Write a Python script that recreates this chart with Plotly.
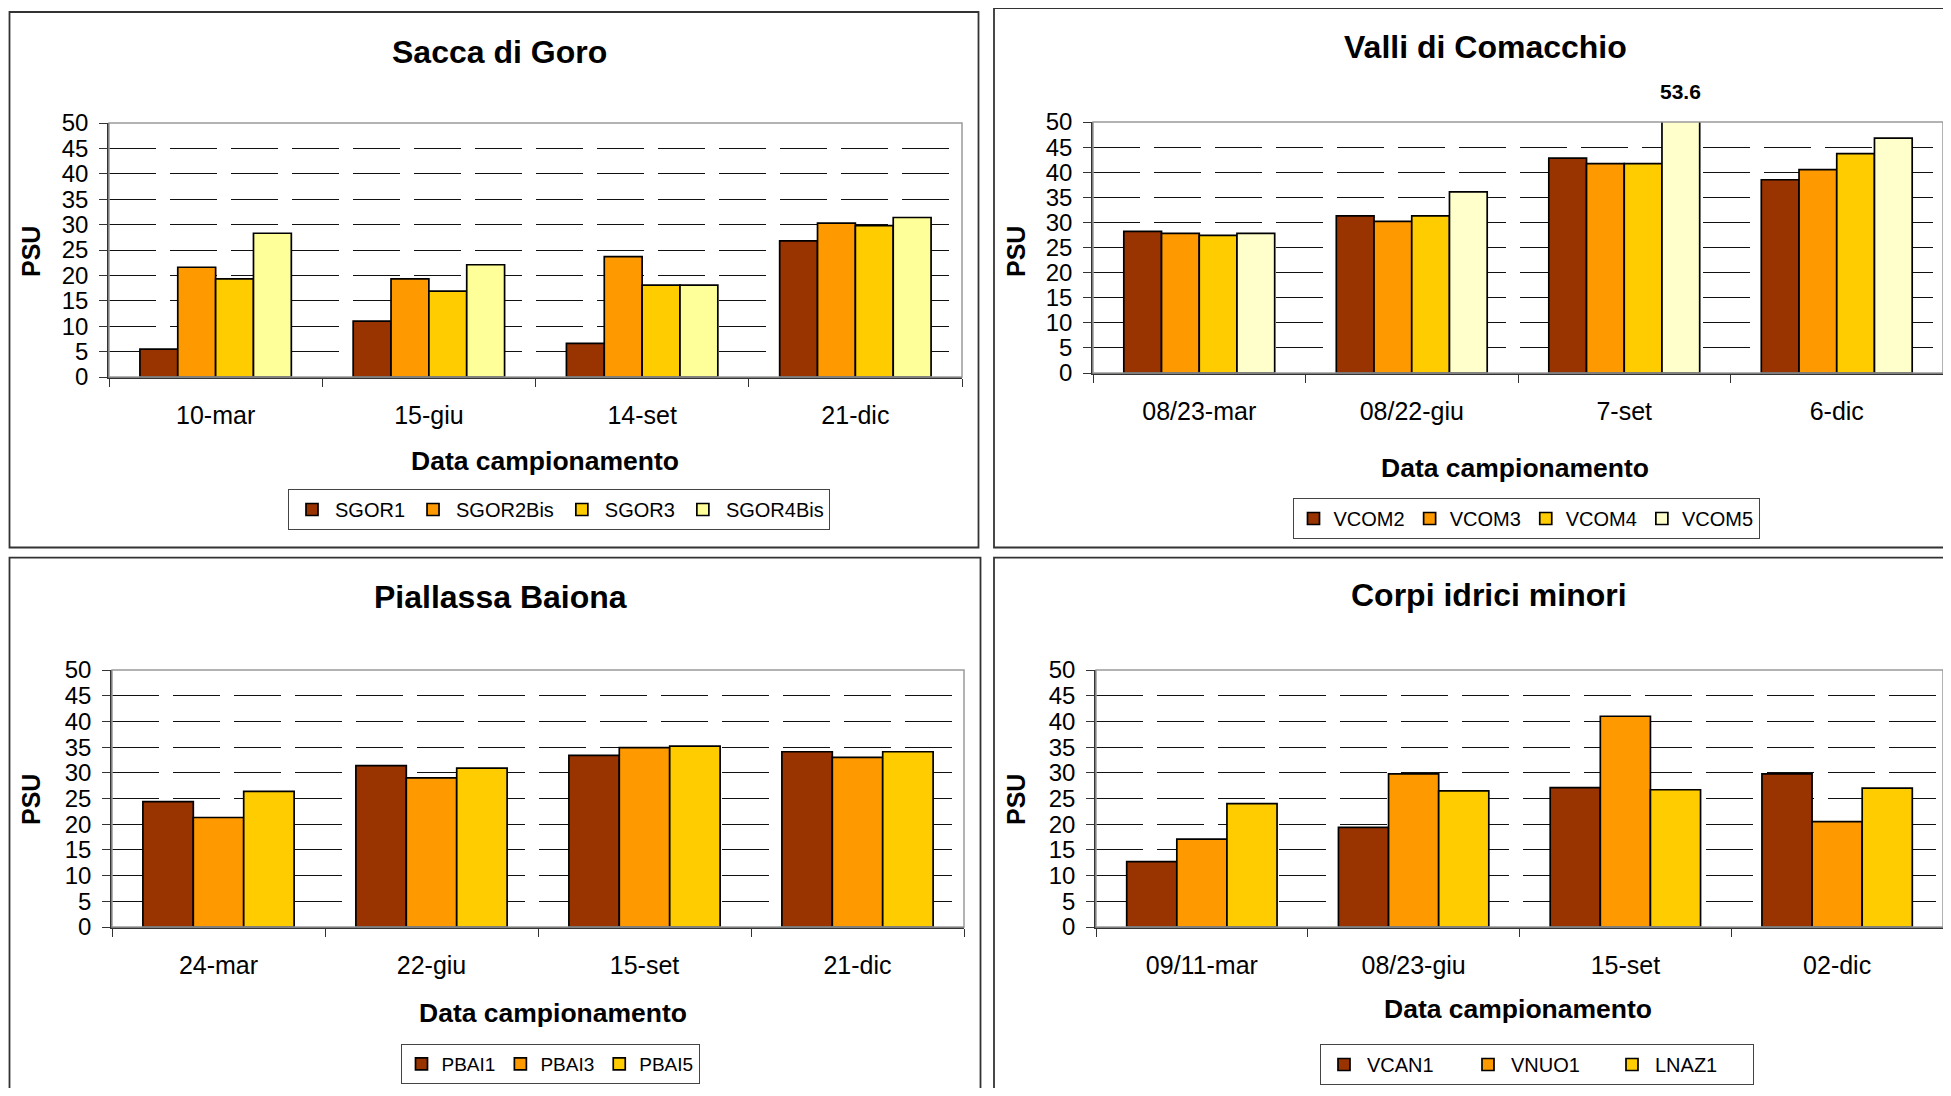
import plotly.graph_objects as go
from plotly.subplots import make_subplots

# reference picture size, and the figure size that fits inside the page margins
W, H = 1951, 1096
FW, FH = 1935, 1080
OX, OY = 8, 8

# Sacca di Goro
goro_date = ["10-mar", "15-giu", "14-set", "21-dic"]
sgor1 = [5.5, 11.0, 6.6, 26.8]
sgor2bis = [21.6, 19.3, 23.7, 30.3]
sgor3 = [19.3, 16.9, 18.1, 29.8]
sgor4bis = [28.3, 22.1, 18.1, 31.4]

# Valli di Comacchio
com_date = ["08/23-mar", "08/22-giu", "7-set", "6-dic"]
vcom2 = [28.2, 31.3, 42.8, 38.5]
vcom3 = [27.8, 30.2, 41.7, 40.5]
vcom4 = [27.4, 31.3, 41.7, 43.7]
vcom5 = [27.8, 36.1, 53.6, 46.8]

# Piallassa Baiona
bai_date = ["24-mar", "22-giu", "15-set", "21-dic"]
pbai1 = [24.4, 31.4, 33.4, 34.1]
pbai3 = [21.3, 29.0, 34.9, 33.0]
pbai5 = [26.4, 30.9, 35.2, 34.1]

# Corpi idrici minori
min_date = ["09/11-mar", "08/23-giu", "15-set", "02-dic"]
vcan1 = [12.7, 19.4, 27.1, 29.8]
vnuo1 = [17.1, 29.8, 41.0, 20.5]
lnaz1 = [24.0, 26.5, 26.7, 27.0]

BROWN, ORANGE, GOLD = "#993300", "#FF9900", "#FFCC00"
FONT = "Liberation Sans, Arial, sans-serif"
BARGAP = 0.29

# px boxes measured on the reference: plot area, title, x title, PSU, legend, frame
panels = [
    dict(title="Sacca di Goro", dates=goro_date,
         series=[("SGOR1", sgor1, BROWN), ("SGOR2Bis", sgor2bis, ORANGE),
                 ("SGOR3", sgor3, GOLD), ("SGOR4Bis", sgor4bis, "#FFFF99")],
         plot=(109, 962, 123, 377), title_xy=(499, 52), xt_xy=(545, 461),
         psu_xy=(31, 252), leg=(559, 489), iw=36, lsize=20, ew=None,
         frame=(9.5, 978.5, 12, 547.5)),
    dict(title="Valli di Comacchio", dates=com_date,
         series=[("VCOM2", vcom2, BROWN), ("VCOM3", vcom3, ORANGE),
                 ("VCOM4", vcom4, GOLD), ("VCOM5", vcom5, "#FFFFCC")],
         plot=(1093, 1945, 122, 373), title_xy=(1485, 47), xt_xy=(1515, 468),
         psu_xy=(1016, 252), leg=(1526, 498), iw=30, lsize=20, ew=None,
         frame=(994, 1970, 8, 547.5)),
    dict(title="Piallassa Baiona", dates=bai_date,
         series=[("PBAI1", pbai1, BROWN), ("PBAI3", pbai3, ORANGE),
                 ("PBAI5", pbai5, GOLD)],
         plot=(112, 964, 670, 927), title_xy=(500, 597), xt_xy=(553, 1013),
         psu_xy=(31, 800), leg=(550, 1044), iw=30, lsize=19, ew=None,
         frame=(9.5, 980.5, 557.7, 1110)),
    dict(title="Corpi idrici minori", dates=min_date,
         series=[("VCAN1", vcan1, BROWN), ("VNUO1", vnuo1, ORANGE),
                 ("LNAZ1", lnaz1, GOLD)],
         plot=(1096, 1949, 670, 927), title_xy=(1489, 595), xt_xy=(1518, 1009),
         psu_xy=(1016, 800), leg=(1537, 1044), iw=36, lsize=20, ew=93,
         frame=(994, 1970, 557.7, 1110)),
]


def px(x):
    return (x - OX) / FW


def py(y):
    return 1 - (y - OY) / FH


def label(text, x, y, size, angle=0):
    return dict(text=text, xref="paper", yref="paper", x=px(x), y=py(y),
                xanchor="center", yanchor="middle", textangle=angle, showarrow=False,
                font=dict(family=FONT, size=size, color="black"))


fig = make_subplots(rows=2, cols=2)
annotations = []
shapes = []

for i, p in enumerate(panels):
    row, col = i // 2 + 1, i % 2 + 1
    k = "" if i == 0 else str(i + 1)
    leg = "legend" + k
    for name, vals, color in p["series"]:
        fig.add_trace(go.Bar(
            x=p["dates"], y=vals, name=name, legend=leg,
            marker=dict(color=color, line=dict(color="black", width=1.7)),
        ), row=row, col=col)

    x0, x1, y0, y1 = p["plot"]
    fig.update_xaxes(
        domain=[px(x0), min(px(x1), 1)], type="category", tickson="boundaries",
        ticks="outside", ticklen=8, tickcolor="#333", showgrid=False,
        showline=True, linecolor="#333", linewidth=1.5, automargin=False,
        tickfont=dict(family=FONT, size=25, color="black"),
        ticklabelstandoff=15, row=row, col=col)
    fig.update_yaxes(
        domain=[py(y1), py(y0)], range=[0, 50], tickvals=list(range(0, 51, 5)),
        ticks="outside", ticklen=8, tickcolor="#333", automargin=False,
        showline=True, linecolor="#333", linewidth=1.5, zeroline=False,
        showgrid=True, gridcolor="#111", gridwidth=1, griddash="47px,14px",
        tickfont=dict(family=FONT, size=24, color="black"),
        ticklabelstandoff=6, row=row, col=col)

    # grey plot-area frame (top/right)
    shapes.append(dict(type="rect", xref="x%s domain" % k, yref="y%s domain" % k,
                       x0=0, x1=1, y0=0, y1=1, layer="above",
                       line=dict(color="#9a9a9a", width=1.5)))
    # panel frame
    fx0, fx1, fy0, fy1 = p["frame"]
    shapes.append(dict(type="rect", xref="paper", yref="paper",
                       x0=px(fx0), x1=px(fx1), y0=py(fy1), y1=py(fy0),
                       line=dict(color="#333", width=1.8)))

    annotations.append(label("<b>%s</b>" % p["title"], *p["title_xy"], 32))
    annotations.append(label("<b>Data campionamento</b>", *p["xt_xy"], 26.5))
    annotations.append(label("<b>PSU</b>", *p["psu_xy"], 25, angle=-90))

    lx, ly = p["leg"]
    legend_cfg = dict(orientation="h", x=px(lx), xanchor="center", y=py(ly), yanchor="top",
                      bgcolor="white", bordercolor="#444", borderwidth=1, itemwidth=p["iw"],
                      font=dict(family=FONT, size=p["lsize"], color="black"))
    if p["ew"]:
        legend_cfg.update(entrywidth=p["ew"], entrywidthmode="pixels")
    fig.update_layout(**{leg: legend_cfg})

# value label of the clipped VCOM5 bar
bar_w = (panels[1]["plot"][1] - panels[1]["plot"][0]) / 4 * (1 - BARGAP) / 4
annotations.append(dict(text="<b>%s</b>" % vcom5[2], xref="x2", yref="y2",
                        x=com_date[2], y=50, xanchor="center", yanchor="bottom",
                        xshift=1.5 * bar_w, yshift=17, showarrow=False,
                        font=dict(family=FONT, size=21, color="black")))

fig.update_layout(
    width=FW, height=FH, margin=dict(l=0, r=0, t=0, b=0, autoexpand=False),
    paper_bgcolor="white", plot_bgcolor="white",
    barmode="group", bargap=BARGAP, bargroupgap=0,
    showlegend=True, annotations=annotations, shapes=shapes,
    font=dict(family=FONT, color="black"),
)

fig.write_html("out.html")
